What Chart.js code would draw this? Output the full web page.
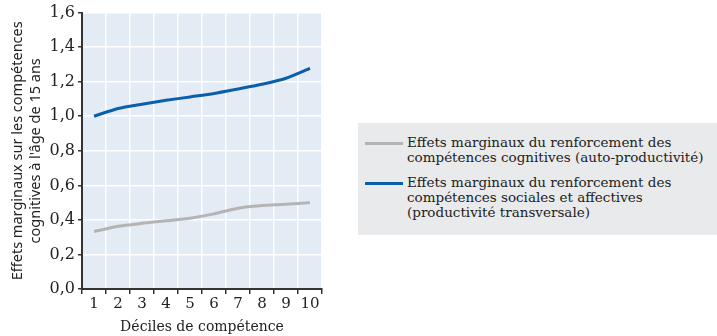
<!DOCTYPE html>
<html>
<head>
<meta charset="utf-8">
<script src="https://cdn.jsdelivr.net/npm/chart.js@4"></script>
<style>
  body { margin: 0; background: #fff; width: 717px; height: 336px; position: relative; overflow: hidden; }
  #wrap { position: absolute; left: 0; top: 0; width: 340px; height: 336px; }
  #legende {
    position: absolute; left: 358px; top: 123px; width: 359px; height: 112px;
    background: #e9eaeb; font-family: "DejaVu Serif", serif; font-size: 13.5px; line-height: 15px; color: #222;
    box-sizing: border-box; padding-top: 12px; overflow: hidden;
  }
  .item { position: relative; padding-left: 49px; margin-bottom: 10px; white-space: nowrap; }
  .trait { position: absolute; left: 7px; top: 7px; width: 38px; height: 3px; }
</style>
</head>
<body>
<div id="wrap"><canvas id="graphique" width="340" height="336"></canvas></div>
<div id="legende"></div>
<script>
const deciles = ['1', '2', '3', '4', '5', '6', '7', '8', '9', '10'];
const autoProductivite = [0.333, 0.363, 0.38, 0.395, 0.41, 0.435, 0.468, 0.483, 0.49, 0.50];
const productiviteTransversale = [1.0, 1.045, 1.07, 1.092, 1.112, 1.132, 1.158, 1.185, 1.22, 1.277];
const nomsSeries = [
    ['Effets marginaux du renforcement des', 'compétences cognitives (auto-productivité)'],
    ['Effets marginaux du renforcement des', 'compétences sociales et affectives', '(productivité transversale)']
];
const couleurs = ['#b4b4b4', '#0a5fad'];

// legende en HTML (lignes multiples)
const legende = document.getElementById('legende');
nomsSeries.forEach((lignes, i) => {
    const div = document.createElement('div');
    div.className = 'item';
    div.innerHTML = '<span class="trait" style="background:' + couleurs[i] + '"></span>' + lignes.join('<br>');
    legende.appendChild(div);
});

const fondZone = {
    id: 'fondZone',
    beforeDraw(chart) {
        const a = chart.chartArea;
        const ctx = chart.ctx;
        ctx.save();
        ctx.fillStyle = '#e3ebf4';
        ctx.fillRect(a.left, a.top, a.right - a.left, a.bottom - a.top);
        ctx.restore();
    }
};

const ctx = document.getElementById('graphique').getContext('2d');
new Chart(ctx, {
    type: 'line',
    data: {
        labels: deciles,
        datasets: [{
            label: nomsSeries[0].join(' '),
            data: autoProductivite,
            borderColor: couleurs[0],
            borderWidth: 3,
            pointRadius: 0,
            tension: 0.2
        }, {
            label: nomsSeries[1].join(' '),
            data: productiviteTransversale,
            borderColor: couleurs[1],
            borderWidth: 3,
            pointRadius: 0,
            tension: 0.2
        }]
    },
    options: {
        responsive: false,
        animation: false,
        layout: { padding: { top: 9, right: 18, bottom: 0, left: 8 } },
        plugins: { legend: { display: false }, tooltip: { enabled: false } },
        scales: {
            x: {
                offset: true,
                grid: { offset: true, color: '#ffffff', lineWidth: 1.5, tickColor: '#333', tickLength: 5, drawOnChartArea: true },
                border: { color: '#333', width: 2 },
                ticks: { color: '#222', font: { family: 'DejaVu Serif', size: 15 }, padding: 1, maxRotation: 0 },
                title: { display: true, text: 'Déciles de compétence', color: '#222', font: { family: 'DejaVu Serif', size: 14 }, padding: { top: 0, bottom: 0 } },
                afterFit(scale) { scale.height = 47; }
            },
            y: {
                min: 0,
                max: 1.6,
                ticks: {
                    stepSize: 0.2,
                    color: '#222',
                    font: { family: 'DejaVu Serif', size: 16 },
                    padding: 3,
                    callback: v => v.toFixed(1).replace('.', ',')
                },
                grid: { color: '#ffffff', lineWidth: 1.5, tickColor: '#333', tickLength: 4 },
                border: { color: '#333', width: 2 },
                title: {
                    display: true,
                    text: ['Effets marginaux sur les compétences', "cognitives à l'âge de 15 ans"],
                    color: '#222',
                    font: { family: 'Noto Sans', size: 14.5, lineHeight: 1.3 },
                    padding: { top: 0, bottom: 0 }
                },
                afterFit(scale) { scale.width = 74; }
            }
        }
    },
    plugins: [fondZone]
});
</script>
</body>
</html>
